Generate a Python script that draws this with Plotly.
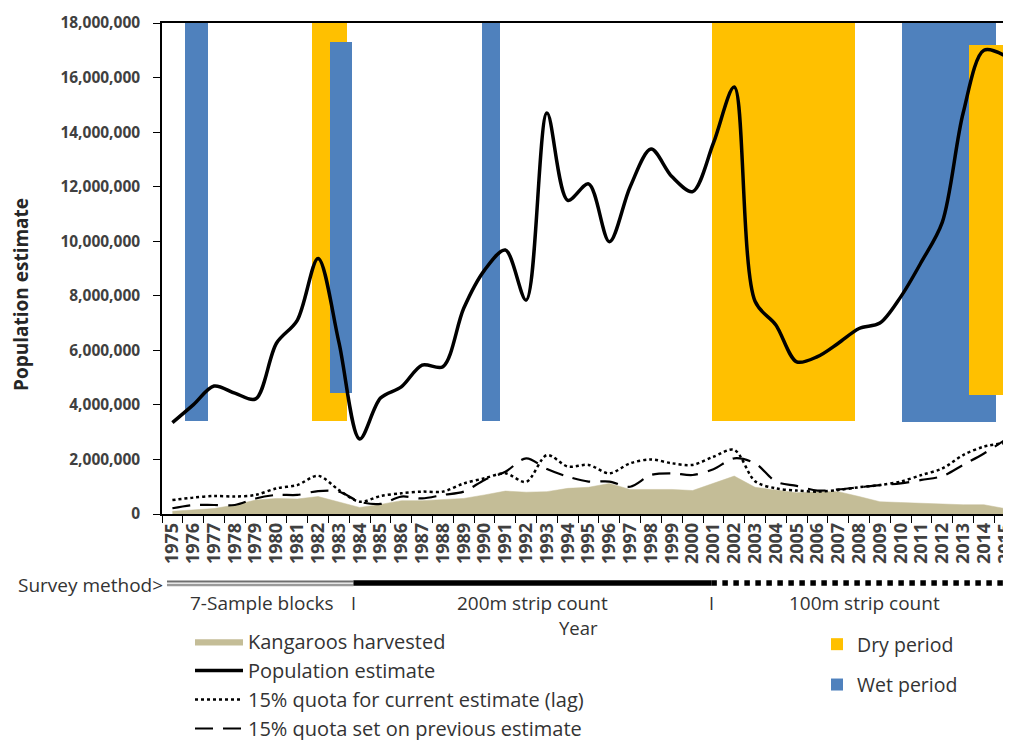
import plotly.graph_objects as go

years = list(range(1975, 2016))

population = [3.35, 4.0, 4.69, 4.43, 4.22, 6.26, 7.1, 9.37, 6.3, 2.75,
              4.25, 4.66, 5.46, 5.4, 7.54, 8.94, 9.68, 7.84, 14.7, 11.5,
              12.1, 9.98, 12.0, 13.38, 12.37, 11.82, 13.6, 15.65, 7.8, 6.93,
              5.58, 5.77, 6.26, 6.8, 7.0, 7.96, 9.25, 10.7, 14.7, 17.0, 16.8]

harvested = [0.1, 0.15, 0.2, 0.33, 0.51, 0.57, 0.55, 0.64, 0.45, 0.24,
             0.35, 0.49, 0.49, 0.54, 0.57, 0.7, 0.84, 0.8, 0.82, 0.94,
             0.98, 1.12, 0.9, 0.9, 0.9, 0.86, 1.12, 1.39, 0.98, 0.88,
             0.78, 0.82, 0.82, 0.64, 0.45, 0.42, 0.39, 0.37, 0.34, 0.34, 0.2]

quota_current = [0.51, 0.6, 0.66, 0.64, 0.7, 0.94, 1.06, 1.4, 0.88, 0.45,
                 0.66, 0.76, 0.82, 0.82, 1.12, 1.31, 1.49, 1.18, 2.16, 1.74,
                 1.8, 1.49, 1.86, 2.0, 1.86, 1.8, 2.1, 2.35, 1.2, 0.94,
                 0.86, 0.82, 0.88, 0.98, 1.06, 1.19, 1.43, 1.67, 2.16, 2.47, 2.6]

quota_previous = [0.21, 0.33, 0.33, 0.33, 0.57, 0.7, 0.7, 0.84, 0.82, 0.45,
                  0.37, 0.64, 0.57, 0.7, 0.82, 1.25, 1.55, 2.04, 1.65, 1.37,
                  1.19, 1.19, 1.0, 1.43, 1.49, 1.43, 1.64, 2.04, 1.86, 1.19,
                  1.03, 0.86, 0.9, 0.98, 1.06, 1.12, 1.25, 1.39, 1.8, 2.22, 2.71]

# climate periods: (start year, end year, low, high) in millions
dry_early = [(1981.69, 1983.38, 3.4, 18.0), (2000.92, 2007.8, 3.4, 18.0)]
wet_periods = [(1975.61, 1976.71, 3.4, 18.0), (1982.57, 1983.62, 4.43, 17.31),
               (1989.86, 1990.74, 3.4, 18.0), (2010.06, 2014.56, 3.37, 18.0)]
dry_late = [(2013.28, 2016.0, 4.36, 17.2)]

survey_methods = [("7-Sample blocks", 1974.74, 1983.7),
                  ("200m strip count", 1983.7, 2000.9),
                  ("100m strip count", 2000.9, 2015.6)]

M = 1e6
DRY = "#FFC000"
WET = "#4F81BD"
TAN = "#C4BD97"
FONT = "Open Sans"
TXT = "#333333"

# the page body has an 8px margin, so the figure starts at (8, 8) on screen
OFF = 8
W, H = 1011 - OFF, 740 - OFF
# plot-area pixel geometry on screen: left 162, right 1011, top 23, bottom 514
PL, PR, PT, PB = 162, 1011, 23, 514


def py(pixel_y):
    return (PB - pixel_y) / (PB - PT)


def px(pixel_x):
    return (pixel_x - PL) / (PR - PL)


def bar_trace(periods, color, name, showlegend, legendgroup):
    return go.Bar(
        x=[(s + e) / 2 for s, e, lo, hi in periods],
        width=[e - s for s, e, lo, hi in periods],
        base=[lo * M for s, e, lo, hi in periods],
        y=[(hi - lo) * M for s, e, lo, hi in periods],
        marker=dict(color=color, line=dict(width=0)),
        name=name, showlegend=showlegend, legend="legend2",
        legendgroup=legendgroup, hoverinfo="skip",
    )


fig = go.Figure()
fig.add_trace(bar_trace(dry_early, DRY, "Dry period", True, "dry"))
fig.add_trace(bar_trace(wet_periods, WET, "Wet period", True, "wet"))
fig.add_trace(bar_trace(dry_late, DRY, "Dry period", False, "dry"))

fig.add_trace(go.Scatter(
    x=years, y=[v * M for v in harvested], mode="lines", fill="tozeroy",
    fillcolor=TAN, line=dict(color=TAN, width=0.5),
    name="Kangaroos harvested", legend="legend"))
fig.add_trace(go.Scatter(
    x=years, y=[v * M for v in population], mode="lines",
    line=dict(color="black", width=3.5, shape="spline", smoothing=0.9),
    name="Population estimate", legend="legend"))
fig.add_trace(go.Scatter(
    x=years, y=[v * M for v in quota_current], mode="lines",
    line=dict(color="black", width=2.5, dash="dot", shape="spline", smoothing=0.9),
    name="15% quota for current estimate (lag)", legend="legend"))
fig.add_trace(go.Scatter(
    x=years, y=[v * M for v in quota_previous], mode="lines",
    line=dict(color="black", width=2.2, dash="18px,10px", shape="spline", smoothing=0.9),
    name="15% quota set on previous estimate", legend="legend"))

shapes = []
y_line = py(583)
name0, s0, e0 = survey_methods[0]
shapes.append(dict(type="line", xref="x", yref="paper", x0=s0, x1=e0,
                   y0=py(581.5), y1=py(581.5), line=dict(color="#6f6f6f", width=2)))
shapes.append(dict(type="line", xref="x", yref="paper", x0=s0, x1=e0,
                   y0=py(585), y1=py(585), line=dict(color="#9a9a9a", width=2.5)))
name1, s1, e1 = survey_methods[1]
shapes.append(dict(type="line", xref="x", yref="paper", x0=s1, x1=e1,
                   y0=y_line, y1=y_line, line=dict(color="black", width=5.5)))
name2, s2, e2 = survey_methods[2]
shapes.append(dict(type="line", xref="x", yref="paper", x0=s2, x1=e2,
                   y0=y_line, y1=y_line, line=dict(color="black", width=5.5, dash="dot")))

annotations = []
annotations.append(dict(text="Population estimate", xref="paper", yref="paper",
                        x=px(21), y=py(295), textangle=-90,
                        showarrow=False, xanchor="center", yanchor="middle",
                        font=dict(family=FONT, size=19, color="#262626", weight="bold")))
annotations.append(dict(text="Survey method>", xref="paper", yref="paper",
                        x=px(165), y=py(585), showarrow=False,
                        xanchor="right", yanchor="middle",
                        font=dict(family=FONT, size=19, color=TXT)))
for name, s, e in survey_methods:
    annotations.append(dict(text=name, xref="x", yref="paper",
                            x=(s + e) / 2 + (0.1 if name.startswith("7") else 0),
                            y=py(603), showarrow=False, xanchor="center", yanchor="middle",
                            font=dict(family=FONT, size=19, color=TXT)))
for _, s, e in survey_methods[:2]:
    annotations.append(dict(text="I", xref="x", yref="paper", x=e, y=py(603),
                            showarrow=False, xanchor="center", yanchor="middle",
                            font=dict(family=FONT, size=18, color=TXT)))
annotations.append(dict(text="Year", xref="paper", yref="paper",
                        x=px(578), y=py(627), showarrow=False,
                        xanchor="center", yanchor="middle",
                        font=dict(family=FONT, size=18.5, color=TXT)))

fig.update_layout(
    width=W, height=H,
    margin=dict(l=PL - OFF, r=0, t=PT - OFF, b=H - (PB - OFF), pad=0, autoexpand=False),
    paper_bgcolor="white", plot_bgcolor="white",
    barmode="overlay", bargap=0,
    font=dict(family=FONT, color=TXT),
    shapes=shapes, annotations=annotations,
    legend=dict(xref="container", yref="container",
                x=(190 - OFF) / W, y=1 - (622 - OFF) / H,
                xanchor="left", yanchor="top", bgcolor="rgba(0,0,0,0)",
                font=dict(family=FONT, size=20, color=TXT), tracegroupgap=0,
                itemwidth=48),
    legend2=dict(xref="container", yref="container",
                 x=(817 - OFF) / W, y=1 - (625 - OFF) / H,
                 xanchor="left", yanchor="top", bgcolor="rgba(0,0,0,0)",
                 traceorder="grouped", tracegroupgap=12,
                 font=dict(family=FONT, size=19.5, color=TXT)),
    xaxis=dict(
        range=[1974.5, 2015.3], tickmode="array", tickvals=years,
        ticktext=[str(y) for y in years], tickangle=-90, ticks="",
        ticklabeloverflow="allow",
        tickfont=dict(family=FONT, size=18, color="#404040", weight="bold"),
        showline=True, linecolor="black", linewidth=1.5, mirror=True,
        showgrid=False, zeroline=False, automargin=False,
        minor=dict(tickvals=[y - 0.5 for y in years] + [years[-1] + 0.5],
                   ticks="outside", ticklen=7, tickcolor="black", tickwidth=1.2,
                   showgrid=False),
    ),
    yaxis=dict(
        range=[0, 18 * M], tickmode="linear", tick0=0, dtick=2 * M,
        tickformat=",d", ticks="outside", ticklen=7, tickcolor="black",
        tickwidth=1.2, ticklabelstandoff=10, automargin=False,
        tickfont=dict(family=FONT, size=15.5, color="#404040", weight="bold"),
        showline=True, linecolor="black", linewidth=1.5,
        showgrid=False, zeroline=False,
    ),
)

fig.write_html("out.html", config={"displayModeBar": False})
